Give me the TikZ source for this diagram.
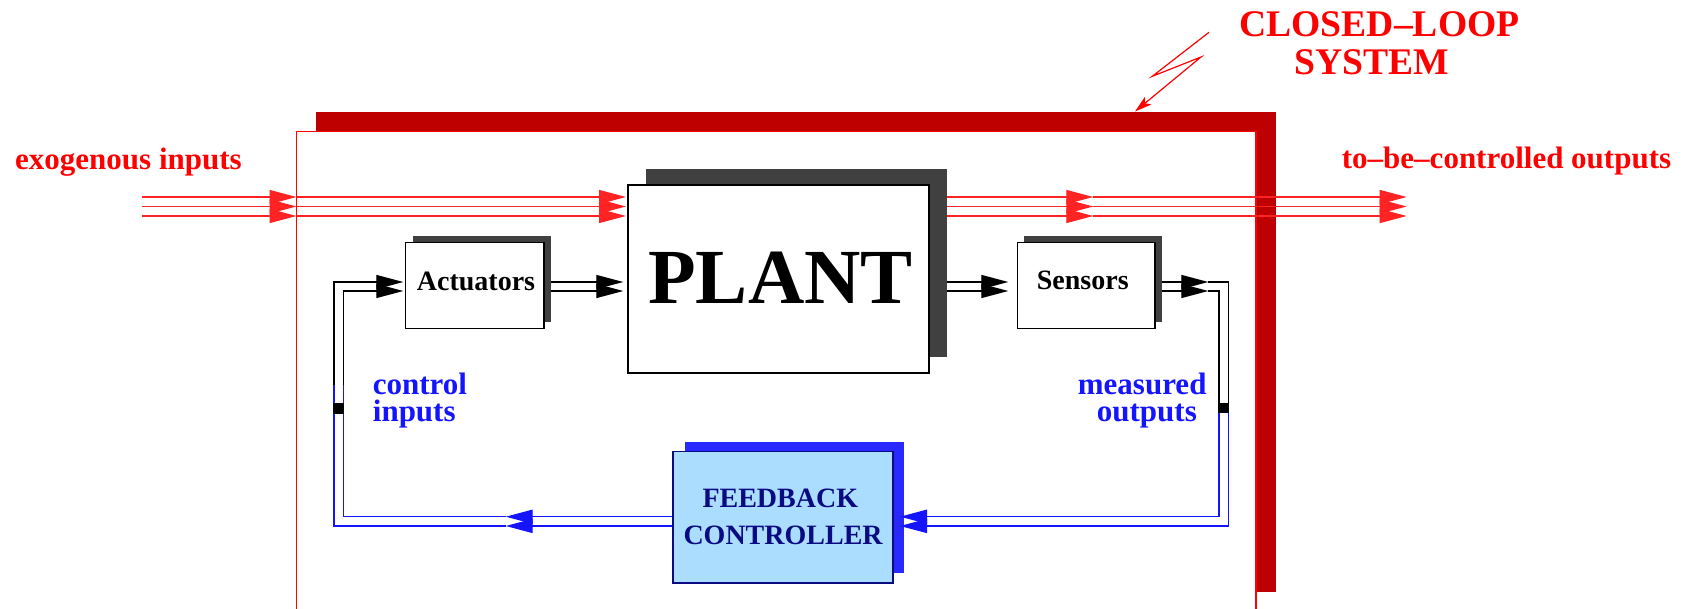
\documentclass[tikz,border=0pt]{standalone}
\usepackage{fontspec}
\setmainfont{Liberation Serif}
\usetikzlibrary{arrows.meta}
\definecolor{xred}{RGB}{255,0,0}
\definecolor{lred}{RGB}{255,35,35}
\definecolor{dred}{RGB}{190,0,0}
\definecolor{shgray}{RGB}{64,64,64}
\definecolor{xblue}{RGB}{20,20,255}
\definecolor{shblue}{RGB}{40,40,255}
\definecolor{navy}{RGB}{10,10,130}
\definecolor{lblue}{RGB}{170,221,255}
\tikzset{
  tri/.tip={Triangle[length=27pt,width=14pt]},
  redln/.style={draw=lred, line width=1.3pt},
  redarr/.style={redln, -{tri}},
  blkln/.style={draw=black, line width=1.3pt},
  blkarr/.style={blkln, -{tri}},
  bluln/.style={draw=xblue, line width=1.3pt},
  bluarr/.style={bluln, -{tri}},
  box/.style={draw=black, fill=white, line width=1.4pt, inner sep=0pt, anchor=north west},
  cbox/.style={draw=navy, fill=lblue, line width=1.4pt, inner sep=0pt, anchor=north west},
  lbl/.style={inner sep=0pt, anchor=base west, font=\bfseries\fontsize{31}{31}\selectfont},
  boxlbl/.style={inner sep=0pt, anchor=base west, font=\bfseries\fontsize{28}{28}\selectfont},
}
\begin{document}
\begin{tikzpicture}[x=1pt,y=-1pt]
\useasboundingbox (0,0) rectangle (1698,609);

% closed-loop frame
\fill[dred] (316,112) rectangle (1276,131.5);
\fill[dred] (1256,112) rectangle (1276,591.7);
\draw[xred, line width=1.3pt] (296.5,609) -- (296.5,131.3) -- (1256,131.3) -- (1256,609);

% title and zigzag pointer
\node[inner sep=0pt, anchor=base west, text=xred, font=\bfseries\fontsize{37.6}{37.6}\selectfont] (t1) at (1239.3,36.7) {CLOSED–LOOP};
\node[inner sep=0pt, anchor=base west, text=xred, font=\bfseries\fontsize{37.6}{37.6}\selectfont] (t2) at (1294,75) {SYSTEM};
\coordinate (z0) at (1209,32.3);
\coordinate (z1) at (1152.3,76.3);
\coordinate (z2) at (1201,57);
\coordinate (z3) at (1135,111.5);
\draw[xred, line width=1.2pt, -{Stealth[length=17pt,width=10pt,inset=4pt]}] (z0) -- (z1) -- (z2) -- (z3);

% boxes with shadows
\fill[shgray] (646,169.3) rectangle (947,357);
\node[box, minimum width=301pt, minimum height=188pt] (plant) at (627.3,184.3) {};
\node[inner sep=0pt, anchor=base, font=\bfseries\fontsize{78}{78}\selectfont] (plantlbl) at (780.5,303.3) {PLANT};

\fill[shgray] (413.3,236) rectangle (550.7,321.7);
\node[box, minimum width=138.3pt, minimum height=85.7pt] (act) at (405,242) {};
\node[boxlbl] (actlbl) at (416.7,291) {Actuators};

\fill[shgray] (1024,236) rectangle (1162,322);
\node[box, minimum width=137.6pt, minimum height=86pt] (sen) at (1016.7,241.7) {};
\node[boxlbl] (senlbl) at (1036.7,290) {Sensors};

\fill[shblue] (685,442) rectangle (904,572.7);
\node[cbox, minimum width=220pt, minimum height=131.3pt] (ctrl) at (672.3,451) {};
\node[boxlbl, text=navy] (c1) at (702.3,507.3) {FEEDBACK};
\node[boxlbl, text=navy] (c2) at (683.3,544) {CONTROLLER};

% texts
\node[lbl, text=xred] (exo) at (15,169.3) {exogenous inputs};
\node[lbl, text=xred] (tbc) at (1341.7,168.3) {to–be–controlled outputs};
\node[lbl, text=xblue] (ci1) at (372.7,394.3) {control};
\node[lbl, text=xblue] (ci2) at (372.7,421.7) {inputs};
\node[lbl, text=xblue] (mo1) at (1077.7,395) {measured};
\node[lbl, text=xblue] (mo2) at (1096.7,421.7) {outputs};

% red exogenous inputs and outputs
\foreach \y/\n in {197/a,206.5/b,216/c}{
  \coordinate (in\n) at (142,\y);
  \coordinate (fr\n) at (296.5,\y);
  \coordinate (pl\n) at (626,\y);
  \coordinate (po\n) at (947,\y);
  \coordinate (mi\n) at (1093.3,\y);
  \coordinate (ou\n) at (1406.7,\y);
  \draw[redarr] (in\n) -- (fr\n);
  \draw[redarr] (fr\n) -- (pl\n);
  \draw[redarr] (po\n) -- (mi\n);
  \draw[redarr] (mi\n) -- (ou\n);
}

% actuators -> plant -> sensors
\foreach \y/\n in {282/a,291/b}{
  \coordinate (ao\n) at (550.7,\y);
  \coordinate (pi\n) at (623.3,\y);
  \coordinate (pq\n) at (947,\y);
  \coordinate (si\n) at (1008.3,\y);
  \draw[blkarr] (ao\n) -- (pi\n);
  \draw[blkarr] (pq\n) -- (si\n);
}

% sensors -> controller (right loop)
\coordinate (so1) at (1162,282);  \coordinate (sa1) at (1208.3,282);
\coordinate (so2) at (1162,291);  \coordinate (sa2) at (1208.3,291);
\coordinate (rc1) at (1228.3,282); \coordinate (rm1) at (1228.3,403);
\coordinate (rc2) at (1219,291);   \coordinate (rm2) at (1219,403);
\coordinate (rb1) at (1228.3,526); \coordinate (rb2) at (1219,516.7);
\coordinate (ci1a) at (900,526);   \coordinate (ci2a) at (900,516.7);
\draw[blkarr] (so1) -- (sa1);
\draw[blkarr] (so2) -- (sa2);
\draw[blkln] (sa1) -- (rc1) -- (rm1);
\draw[blkln] (sa2) -- (rc2) -- (rm2);
\draw[bluarr] (rm1) -- (rb1) -- (ci1a);
\draw[bluarr] (rm2) -- (rb2) -- (ci2a);
\fill[black] (1218.3,403.3) rectangle (1229,413);

% controller -> actuators (left loop)
\coordinate (co1) at (672.3,526);   \coordinate (ca1) at (505.7,526);
\coordinate (co2) at (672.3,516.7); \coordinate (ca2) at (505.7,516.7);
\coordinate (lb1) at (334,526);     \coordinate (lm1) at (334,385);
\coordinate (lb2) at (343.3,516.7); \coordinate (lm2) at (343.3,385);
\coordinate (lt1) at (334,282);     \coordinate (ai1) at (403.3,282);
\coordinate (lt2) at (343.3,291);   \coordinate (ai2) at (403.3,291);
\draw[bluarr] (co1) -- (ca1);
\draw[bluarr] (co2) -- (ca2);
\draw[bluln] (ca1) -- (lb1) -- (lm1);
\draw[bluln] (ca2) -- (lb2) -- (lm2);
\draw[blkarr] (lm1) -- (lt1) -- (ai1);
\draw[blkarr] (lm2) -- (lt2) -- (ai2);
\fill[black] (333.3,403.3) rectangle (344,414);
\end{tikzpicture}
\end{document}
